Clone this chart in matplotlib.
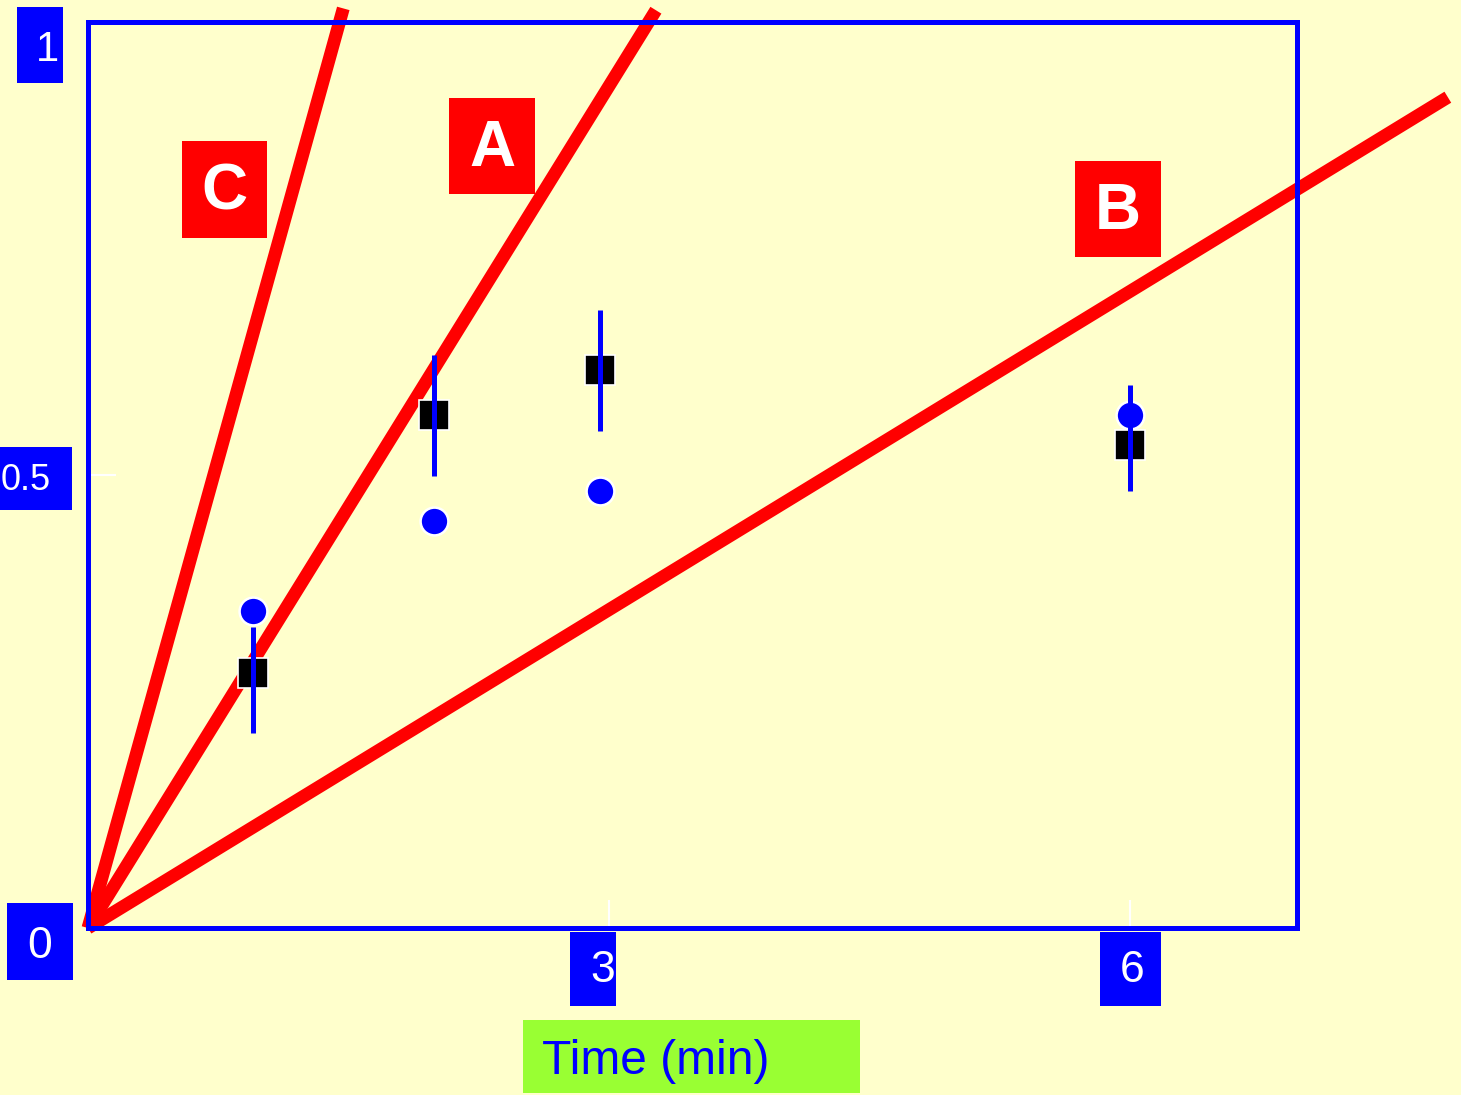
import matplotlib
matplotlib.use("Agg")
import matplotlib.pyplot as plt
from matplotlib.patches import Rectangle
import numpy as np

# Measured points (time in minutes)
time_min = [0.95, 1.99, 2.95, 6.0]
square_vals = [0.281, 0.566, 0.616, 0.533]
square_err_lo = [0.215, 0.499, 0.549, 0.482]
square_err_hi = [0.332, 0.632, 0.682, 0.599]
circle_vals = [0.350, 0.449, 0.482, 0.566]

# Reference lines through the origin
line_names = ["A", "B", "C"]
line_end_x = [3.27, 7.83, 1.47]
line_end_y = [1.013, 0.917, 1.015]

x_ticks = [3, 6]
y_ticks = [0.5]

BG = "#FFFFCC"
BLUE = "#0000FF"
RED = "#FF0000"
GREEN = "#99FF33"

W, H = 1461, 1095
fig = plt.figure(figsize=(W / 100, H / 100), dpi=100, facecolor=BG)
plt.rcParams["font.family"] = ["Liberation Sans", "DejaVu Sans"]

L, R, T, B = 88, 1297, 22, 928
ax = fig.add_axes([L / W, 1 - B / H, (R - L) / W, (B - T) / H])
ax.set_facecolor(BG)
ax.set_xlim(0, (R - L) / 173.67)
ax.set_ylim(0, 1)

for s in ax.spines.values():
    s.set_color(BLUE)
    s.set_linewidth(3.6)
    s.set_zorder(6)

ax.set_xticks(x_ticks)
ax.set_yticks(y_ticks)
ax.set_xticklabels([])
ax.set_yticklabels([])
ax.tick_params(direction="in", length=20, width=1.5, color="white")

for ex, ey in zip(line_end_x, line_end_y):
    ax.plot([0, ex], [0, ey], color=RED, lw=9.3, solid_capstyle="butt",
            clip_on=False, zorder=3)

ax.plot(time_min, circle_vals, "o", ms=20, mfc=BLUE, mec="white", mew=1.8,
        ls="none", zorder=4)
ax.plot(time_min, square_vals, "s", ms=21, mfc="black", mec="white", mew=1.2,
        ls="none", zorder=4)
yerr = np.array([np.array(square_vals) - np.array(square_err_lo),
                 np.array(square_err_hi) - np.array(square_vals)])
ax.errorbar(time_min, square_vals, yerr=yerr, fmt="none", ecolor=BLUE,
            elinewidth=3.6, capsize=0, zorder=5)


def px_box(x0, y0, x1, y1, color, text, tx, ty, tcolor, size, weight="normal", ha="center"):
    fig.add_artist(Rectangle((x0 / W, 1 - y1 / H), (x1 - x0) / W, (y1 - y0) / H,
                             transform=fig.transFigure, facecolor=color,
                             edgecolor="none", zorder=7))
    fig.text(tx / W, 1 - ty / H, text, color=tcolor, fontsize=size,
             fontweight=weight, ha=ha, va="center", zorder=8)


# Axis value boxes
px_box(17, 7, 63, 83, BLUE, "1", 47, 50, "white", 30)
px_box(0, 447, 72, 510, BLUE, "0.5", 26, 481, "white", 26)
px_box(7, 903, 73, 980, BLUE, "0", 40, 946, "white", 32)
px_box(570, 932, 616, 1006, BLUE, "3", 603, 971, "white", 32)
px_box(1100, 932, 1161, 1006, BLUE, "6", 1132, 971, "white", 32)

# Axis title
px_box(523, 1020, 860, 1093, GREEN, "Time (min)", 542, 1061, BLUE, 34.5, ha="left")

# Line labels
label_boxes = {"C": (182, 141, 267, 238), "A": (449, 98, 535, 194), "B": (1075, 161, 1161, 257)}
for name in line_names:
    x0, y0, x1, y1 = label_boxes[name]
    px_box(x0, y0, x1, y1, RED, name, (x0 + x1) / 2, (y0 + y1) / 2 + 3, "white", 46,
           weight="bold")

fig.savefig("out.png", dpi=100, facecolor=BG)
